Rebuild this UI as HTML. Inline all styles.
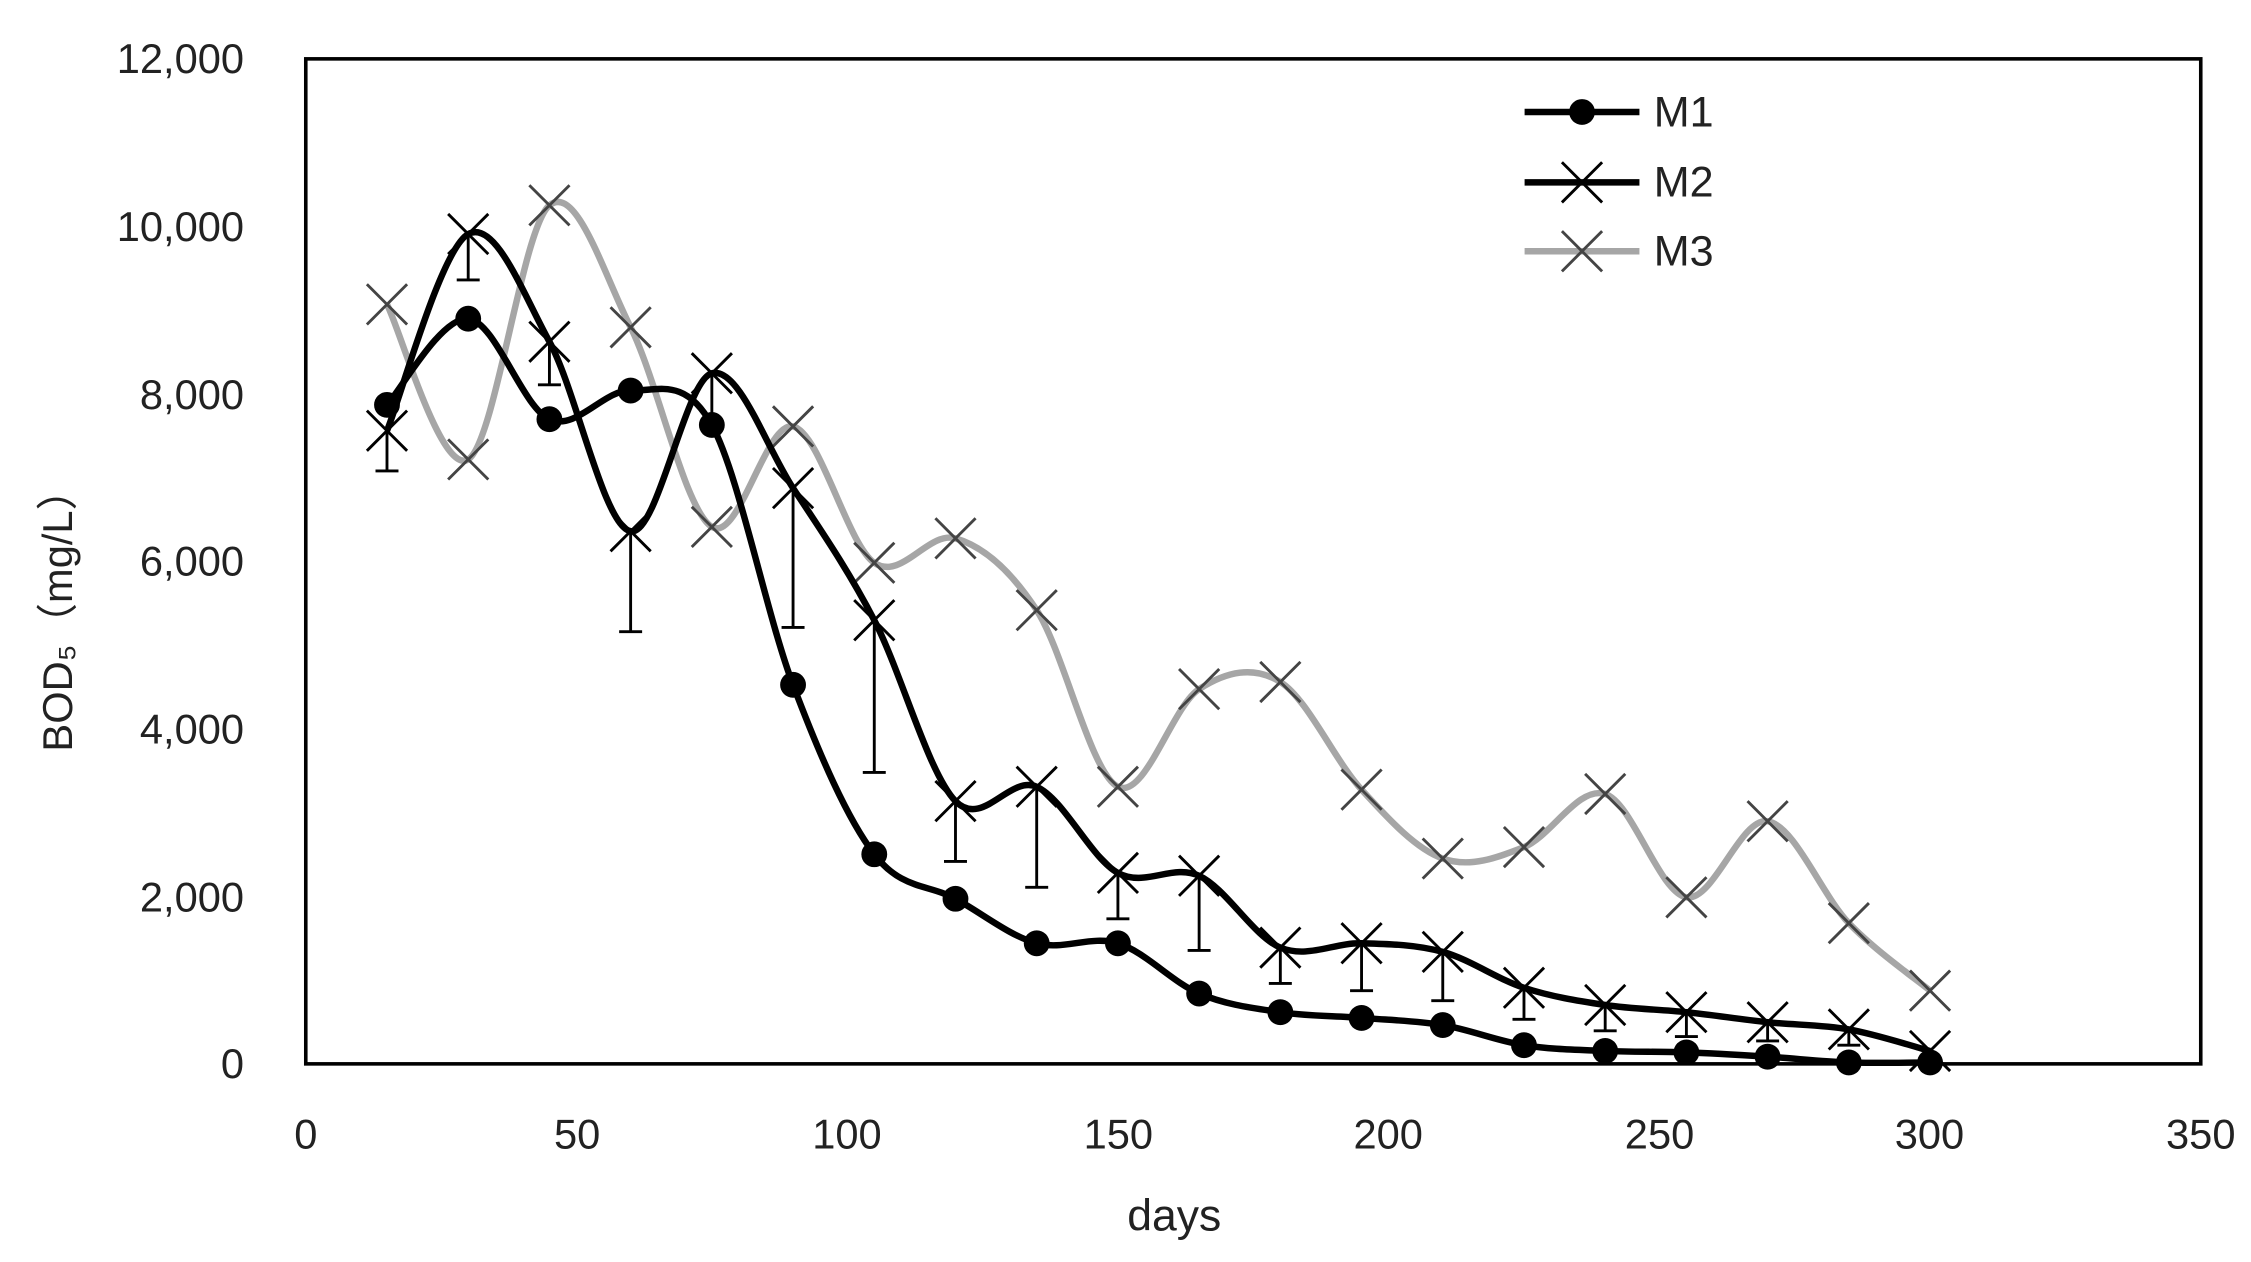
<!DOCTYPE html>
<html><head><meta charset="utf-8"><style>
html,body{margin:0;padding:0;background:#fff;}
svg{display:block;}
text{font-family:"Liberation Sans","Noto Sans CJK SC",sans-serif;fill:#222;}
</style></head><body>
<svg id="s" width="2251" height="1262" viewBox="0 0 1568 879" preserveAspectRatio="none" xmlns="http://www.w3.org/2000/svg">
<rect x="213" y="41" width="1320" height="700" fill="#fff" stroke="#000" stroke-width="2.5"/>
<g font-size="29" text-anchor="end">
<text x="170" y="51">12,000</text>
<text x="170" y="168">10,000</text>
<text x="170" y="285">8,000</text>
<text x="170" y="401">6,000</text>
<text x="170" y="518">4,000</text>
<text x="170" y="635">2,000</text>
<text x="170" y="751">0</text>
</g>
<g font-size="29" text-anchor="middle">
<text x="213" y="800">0</text>
<text x="402" y="800">50</text>
<text x="590" y="800">100</text>
<text x="779" y="800">150</text>
<text x="967" y="800">200</text>
<text x="1156" y="800">250</text>
<text x="1344" y="800">300</text>
<text x="1533" y="800">350</text>
<text x="818" y="857" font-size="31">days</text>
</g>
<text transform="translate(50,425) rotate(-90)" font-size="29" text-anchor="middle">BOD₅（mg/L）</text>
<g id="plot"></g>
<g font-size="30">
<line x1="1062" y1="78" x2="1142" y2="78" stroke="#000" stroke-width="4.5"/>
<circle cx="1102" cy="78" r="9" fill="#000"/>
<text x="1152" y="88">M1</text>
<line x1="1062" y1="127" x2="1142" y2="127" stroke="#000" stroke-width="4.5"/>
<path d="M1088 113L1116 141M1088 141L1116 113" stroke="#000" stroke-width="2"/>
<text x="1152" y="137">M2</text>
<line x1="1062" y1="175" x2="1142" y2="175" stroke="#a6a6a6" stroke-width="4.5"/>
<path d="M1088 161L1116 189M1088 189L1116 161" stroke="#444" stroke-width="2"/>
<text x="1152" y="185">M3</text>
</g>
</svg>
<script>
var X=function(d){return 213+d*1320/350;};
var m1=[282,222,292,272,296,477,595,626,657,657,692,705,709,714,728,732,733,736,740,740];
var m2=[300,163,238,370,260,340,432,558,548,608,610,660,657,663,688,700,705,712,717,732];
var e2=[328,195,268,440,296,437,538,600,618,640,662,685,690,697,710,718,722,725,728,740];
var m3=[212,320,143,228,367,297,392,375,425,548,480,475,550,598,590,553,625,572,643,690];
function pts(a){return a.map(function(y,i){return [X(15+15*i),y];});}
function cr(p){var d="M"+p[0][0]+" "+p[0][1];for(var i=0;i<p.length-1;i++){var p0=p[i-1]||p[i],p1=p[i],p2=p[i+1],p3=p[i+2]||p2;var t=0.5/3;d+="C"+(p1[0]+(p2[0]-p0[0])*t)+" "+(p1[1]+(p2[1]-p0[1])*t)+" "+(p2[0]-(p3[0]-p1[0])*t)+" "+(p2[1]-(p3[1]-p1[1])*t)+" "+p2[0]+" "+p2[1];}return d;}
var h="";
var P2=pts(m2);
P2.forEach(function(p,i){h+='<path d="M'+p[0]+' '+p[1]+'V'+e2[i]+'M'+(p[0]-8)+' '+e2[i]+'H'+(p[0]+8)+'" stroke="#000" stroke-width="2" fill="none"/>';});
function xs(p,c){var s=14;return '<path d="M'+(p[0]-s)+' '+(p[1]-s)+'L'+(p[0]+s)+' '+(p[1]+s)+'M'+(p[0]-s)+' '+(p[1]+s)+'L'+(p[0]+s)+' '+(p[1]-s)+'" stroke="'+c+'" stroke-width="2"/>';}
var P3=pts(m3);
h+='<path d="'+cr(P3)+'" fill="none" stroke="#a6a6a6" stroke-width="4.5"/>';
P3.forEach(function(p){h+=xs(p,"#444");});
var P1=pts(m1);
h+='<path d="'+cr(P1)+'" fill="none" stroke="#000" stroke-width="4.5"/>';
P1.forEach(function(p){h+='<circle cx="'+p[0]+'" cy="'+p[1]+'" r="9" fill="#000"/>';});
h+='<path d="'+cr(P2)+'" fill="none" stroke="#000" stroke-width="4.5"/>';
P2.forEach(function(p){h+=xs(p,"#000");});
document.getElementById("plot").innerHTML=h;
</script>
</body></html>
